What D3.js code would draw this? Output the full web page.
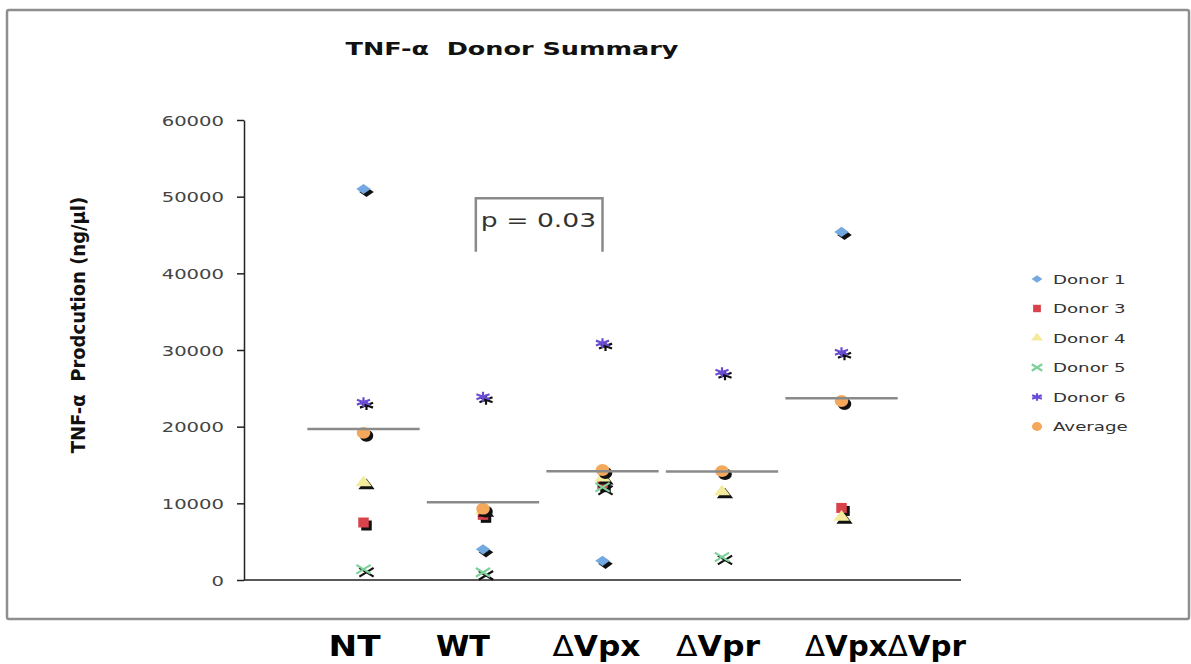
<!DOCTYPE html>
<html>
<head>
<meta charset="utf-8">
<script src="https://cdn.jsdelivr.net/npm/d3@7"></script>
<style>
  body { margin: 0; background: #fff; }
  text { font-family: 'DejaVu Sans', Verdana, sans-serif; white-space: pre; }
</style>
</head>
<body>
<svg id="chart" width="1191" height="664"></svg>
<script>
// values (ng/ul), null = no point for that donor
const categories = ['NT', 'WT', 'ΔVpx', 'ΔVpr', 'ΔVpxΔVpr'];
const donor1 = [51000, 4000, 2500, null, 45400];
const donor3 = [7500, 8500, 12500, null, 9400];
const donor4 = [12700, 9100, 13300, 11500, 8200];
const donor5 = [1400, 1000, 12100, 3000, null];
const donor6 = [23200, 23900, 30900, 27100, 29700];
const average = [19200, 9300, 14350, 14200, 23350];
const meanLine = [19700, 10150, 14200, 14150, 23700];
const yTicks = [0, 10000, 20000, 30000, 40000, 50000, 60000];
const pLabel = 'p = 0.03';

const SX = 1.4; // the source image is stretched horizontally

const svg = d3.select('#chart');

const x = d3.scaleLinear().domain([0, 6]).range([244, 961]);
const y = d3.scaleLinear().domain([0, 60000]).range([580, 120]);

// outer frame
svg.append('rect')
  .attr('x', 7).attr('y', 10)
  .attr('width', 1182).attr('height', 609)
  .attr('rx', 2)
  .attr('fill', '#fff')
  .attr('stroke', '#8e8e8e')
  .attr('stroke-width', 2.5);

// title
svg.append('text')
  .attr('transform', `translate(512,55) scale(1.5,1)`)
  .attr('text-anchor', 'middle')
  .attr('font-size', 17)
  .attr('font-weight', 'bold')
  .attr('fill', '#111')
  .text('TNF-α  Donor Summary');

// y axis
const yAxis = svg.append('g')
  .attr('transform', `translate(${x(0)},0)`)
  .call(d3.axisLeft(y).tickValues(yTicks).tickSize(7).tickSizeOuter(0).tickFormat(d3.format('d')));
yAxis.select('.domain').attr('stroke', '#222').attr('stroke-width', 1.5);
yAxis.selectAll('.tick line').attr('stroke', '#222').attr('stroke-width', 1.5);
yAxis.selectAll('.tick text')
  .attr('x', null).attr('dy', '0.36em')
  .attr('transform', `translate(-20,0) scale(${SX},1)`)
  .attr('font-size', 14)
  .attr('font-family', "'DejaVu Sans', Verdana, sans-serif")
  .attr('fill', '#444');

// x axis line (no ticks)
svg.append('line')
  .attr('x1', x(0)).attr('x2', x(6))
  .attr('y1', y(0)).attr('y2', y(0))
  .attr('stroke', '#222').attr('stroke-width', 1.5);

// y label
svg.append('text')
  .attr('transform', `translate(85,325) scale(1.1,1) rotate(-90)`)
  .attr('text-anchor', 'middle')
  .attr('font-size', 18)
  .attr('font-weight', 'bold')
  .attr('fill', '#111')
  .text('TNF-α  Prodcution (ng/μl)');

// marker shapes
const strokeTypes = new Set(['times', 'asterisk']);
const series = [
  { name: 'Donor 1', values: donor1, type: d3.symbolDiamond, size: 100, sx: 1.35, sy: 0.55, fill: '#73a9e0' },
  { name: 'Donor 3', values: donor3, type: d3.symbolSquare, size: 100, sx: 1.05, sy: 1, fill: '#d8434b' },
  { name: 'Donor 4', values: donor4, type: d3.symbolTriangle, size: 80, sx: 1.2, sy: 0.9, fill: '#f4eb9c' },
  { name: 'Donor 5', values: donor5, type: d3.symbolTimes, kind: 'times', size: 80, sx: 1.3, sy: 0.8, fill: '#7fd19b' },
  { name: 'Donor 6', values: donor6, type: d3.symbolAsterisk, kind: 'asterisk', size: 95, sx: 1.3, sy: 0.85, fill: '#6a4bd6' },
  { name: 'Average', values: average, type: d3.symbolCircle, size: 110, sx: 1.15, sy: 1, fill: '#f3a85c' },
];

function drawMarker(g, s, px, py, color) {
  const path = g.append('path')
    .attr('d', d3.symbol().type(s.type).size(s.size)())
    .attr('transform', `translate(${px},${py}) scale(${s.sx},${s.sy})`);
  if (strokeTypes.has(s.kind)) {
    path.attr('fill', 'none').attr('stroke', color).attr('stroke-width', 2.2).attr('vector-effect', 'non-scaling-stroke');
  } else {
    path.attr('fill', color);
  }
}

const marks = svg.append('g');
series.forEach((s) => {
  const pts = s.values.map((v, i) => ({ v, i })).filter((d) => d.v != null);
  pts.forEach((d) => {
    const px = x(d.i + 1);
    const py = y(d.v);
    drawMarker(marks, s, px + 3, py + 3, '#111'); // drop shadow
    drawMarker(marks, s, px, py, s.fill);
  });
});

// group mean lines
svg.append('g').selectAll('line')
  .data(meanLine)
  .join('line')
  .attr('x1', (d, i) => x(i + 1 - 0.47))
  .attr('x2', (d, i) => x(i + 1 + 0.47))
  .attr('y1', (d) => y(d))
  .attr('y2', (d) => y(d))
  .attr('stroke', '#8a8a8a')
  .attr('stroke-width', 2.5);

// significance bracket between WT and ΔVpx
const bx0 = x(1.94);
const bx1 = x(3);
const byTop = y(49800);
const byBot = y(42800);
svg.append('path')
  .attr('d', `M${bx0},${byBot}V${byTop}H${bx1}V${byBot}`)
  .attr('fill', 'none')
  .attr('stroke', '#8a8a8a')
  .attr('stroke-width', 2.5);
svg.append('text')
  .attr('transform', `translate(${bx0 + 5},${y(46100)}) scale(${SX},1)`)
  .attr('font-size', 19)
  .attr('fill', '#333')
  .text(pLabel);

// legend
const legend = svg.append('g').attr('transform', 'translate(1037,279)');
series.forEach((s, i) => {
  const row = legend.append('g').attr('transform', `translate(0,${i * 29.5})`);
  drawMarker(row, { ...s, size: s.size * 0.55 }, 0, 0, s.fill);
  row.append('text')
    .attr('transform', `translate(16,0) scale(${SX},1)`)
    .attr('dy', '0.36em')
    .attr('font-size', 13)
    .attr('fill', '#333')
    .text(s.name);
});

// category labels under the frame (shift and width as in the pasted-in labels)
const labelShift = [-9, -20, -6, -4, 44];
const labelWidth = [52, 54, 88, 84, 161];
const xLabels = svg.append('g');
categories.forEach((c, i) => {
  const t = xLabels.append('text')
    .attr('x', x(i + 1) + labelShift[i])
    .attr('y', 656)
    .attr('text-anchor', 'middle')
    .attr('textLength', labelWidth[i])
    .attr('lengthAdjust', 'spacingAndGlyphs')
    .attr('font-family', "'Liberation Sans', Arial, sans-serif")
    .attr('font-size', 28)
    .attr('font-weight', 'bold')
    .attr('fill', '#000');
  c.split(/(Δ)/).filter((p) => p).forEach((p) => {
    t.append('tspan').attr('font-weight', p === 'Δ' ? 'normal' : 'bold').text(p);
  });
});
</script>
</body>
</html>
